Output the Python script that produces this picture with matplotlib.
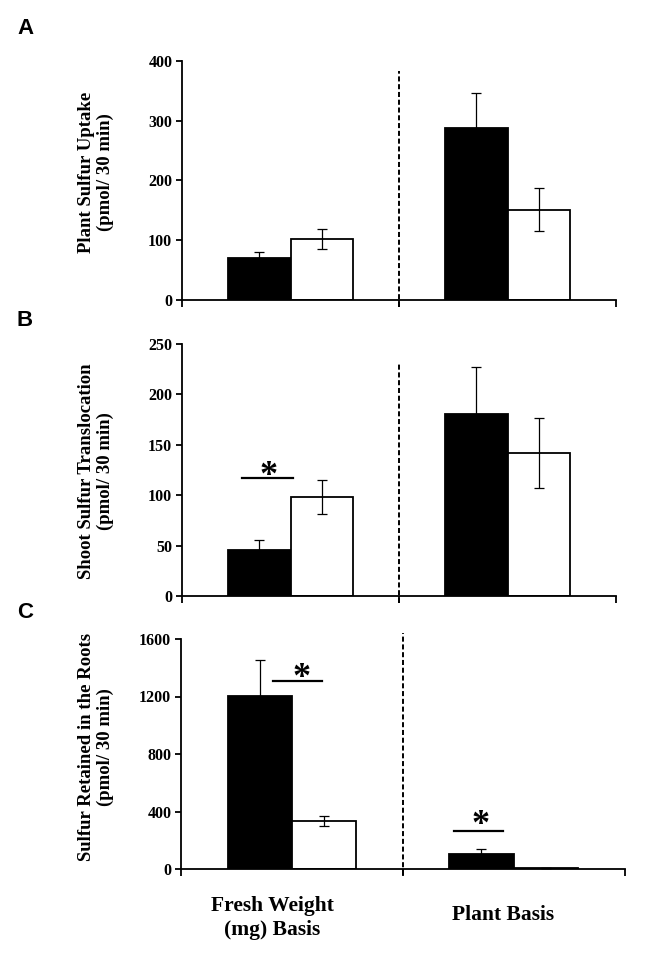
import matplotlib
matplotlib.use("Agg")
import matplotlib.pyplot as plt
import numpy as np

# ---------------- data ----------------
groups = ["Fresh Weight\n(mg) Basis", "Plant Basis"]
panel_letters = ["A", "B", "C"]
ylabels = ["Plant Sulfur Uptake\n(pmol/ 30 min)",
           "Shoot Sulfur Translocation\n(pmol/ 30 min)",
           "Sulfur Retained in the Roots\n(pmol/ 30 min)"]

uptake_black = [71, 288]
uptake_black_err = [10, 58]
uptake_white = [102, 151]
uptake_white_err = [17, 36]

transloc_black = [46, 181]
transloc_black_err = [10, 46]
transloc_white = [98, 142]
transloc_white_err = [17, 35]

roots_black = [1206, 106]
roots_black_err = [245, 32]
roots_white = [333, 8]
roots_white_err = [33, 2]

yticks_A = [0, 100, 200, 300, 400]
yticks_B = [0, 50, 100, 150, 200, 250]
yticks_C = [0, 400, 800, 1200, 1600]

# ---------------- figure ----------------
W, H = 666, 966
fig = plt.figure(figsize=(W / 100, H / 100), dpi=100)
serif = "Liberation Serif"
sans = "Liberation Sans"

def fx(px):
    return px / W

def fy(py):
    return 1 - py / H

axes_px = [  # left, right, top, bottom in pixels
    (182, 616, 60.7, 300),
    (182, 616, 344, 596),
    (181, 624.5, 639, 869),
]

panels = [
    (uptake_black, uptake_black_err, uptake_white, uptake_white_err, yticks_A, 383),
    (transloc_black, transloc_black_err, transloc_white, transloc_white_err, yticks_B, 231),
    (roots_black, roots_black_err, roots_white, roots_white_err, yticks_C, 1640),
]

centers = np.array([0.5, 1.5])
off = 0.145
bw = 0.29
axs = []
for i, ((l, r, t, b), (bv, be, wv, we, yt, dtop)) in enumerate(zip(axes_px, panels)):
    ax = fig.add_axes([fx(l), fy(b), (r - l) / W, (b - t) / H])
    axs.append(ax)
    ax.bar(centers - off, bv, width=bw, color="black", edgecolor="black", linewidth=1.3, zorder=2)
    ax.bar(centers + off, wv, width=bw, color="white", edgecolor="black", linewidth=1.3, zorder=2)
    ax.errorbar(centers - off, bv, yerr=be, fmt="none", ecolor="black", elinewidth=0.9,
                capsize=3.5, capthick=0.9, zorder=3)
    ax.errorbar(centers + off, wv, yerr=we, fmt="none", ecolor="black", elinewidth=0.9,
                capsize=3.5, capthick=0.9, zorder=3)
    ax.set_xlim(0, 2)
    ax.set_ylim(yt[0], yt[-1])
    ax.set_yticks(yt)
    ax.set_yticklabels([str(v) for v in yt], fontfamily=serif, fontweight="bold", fontsize=11.5)
    ax.set_xticks([0, 1, 2])
    ax.set_xticklabels([])
    ax.tick_params(axis="x", direction="out", length=5, width=1.3, color="black")
    ax.tick_params(axis="y", direction="out", length=4, width=1.3, color="black", pad=3)
    for s in ["top", "right"]:
        ax.spines[s].set_visible(False)
    for s in ["left", "bottom"]:
        ax.spines[s].set_linewidth(1.3)
        ax.spines[s].set_color("black")
    yr = yt[-1] - yt[0]
    ax.plot([1, 1], [-0.028 * yr, dtop], color="black", lw=1.4,
            linestyle=(0, (2.6, 1.4)), clip_on=False, zorder=1)
    # panel letter
    fig.text(fx(17), fy([29, 320, 612][i]), panel_letters[i], fontfamily=sans,
             fontweight="bold", fontsize=16, ha="left", va="center")
    # y label
    fig.text(fx(96), fy([172, 471, 747][i]), ylabels[i], fontfamily=serif,
             fontweight="bold", fontsize=13.5, rotation=90, ha="center", va="center",
             multialignment="center", linespacing=1.15)

# significance markers
def sig(ax, x0, x1, yline, xstar, ystar):
    ax.plot([x0, x1], [yline, yline], color="black", lw=1.6, clip_on=False, zorder=3)
    ax.text(xstar, ystar, "*", fontfamily=serif, fontweight="bold", fontsize=26,
            ha="center", va="center", zorder=3)

yrB = yticks_B[-1]
yrC = yticks_C[-1]
sig(axs[1], 0.278, 0.510, 117, 0.398, 130 - 0.045 * yrB)
sig(axs[2], 0.413, 0.638, 1308, 0.542, 1395 - 0.045 * yrC)
sig(axs[2], 1.229, 1.453, 266, 1.351, 377 - 0.045 * yrC)

# group labels
fig.text(fx(272.6), fy(918), groups[0], fontfamily=serif, fontweight="bold", fontsize=15.5,
         ha="center", va="center", multialignment="center", linespacing=1.3)
fig.text(fx(503.3), fy(915), groups[1], fontfamily=serif, fontweight="bold", fontsize=15.5,
         ha="center", va="center")

fig.savefig("out.png", dpi=100)
